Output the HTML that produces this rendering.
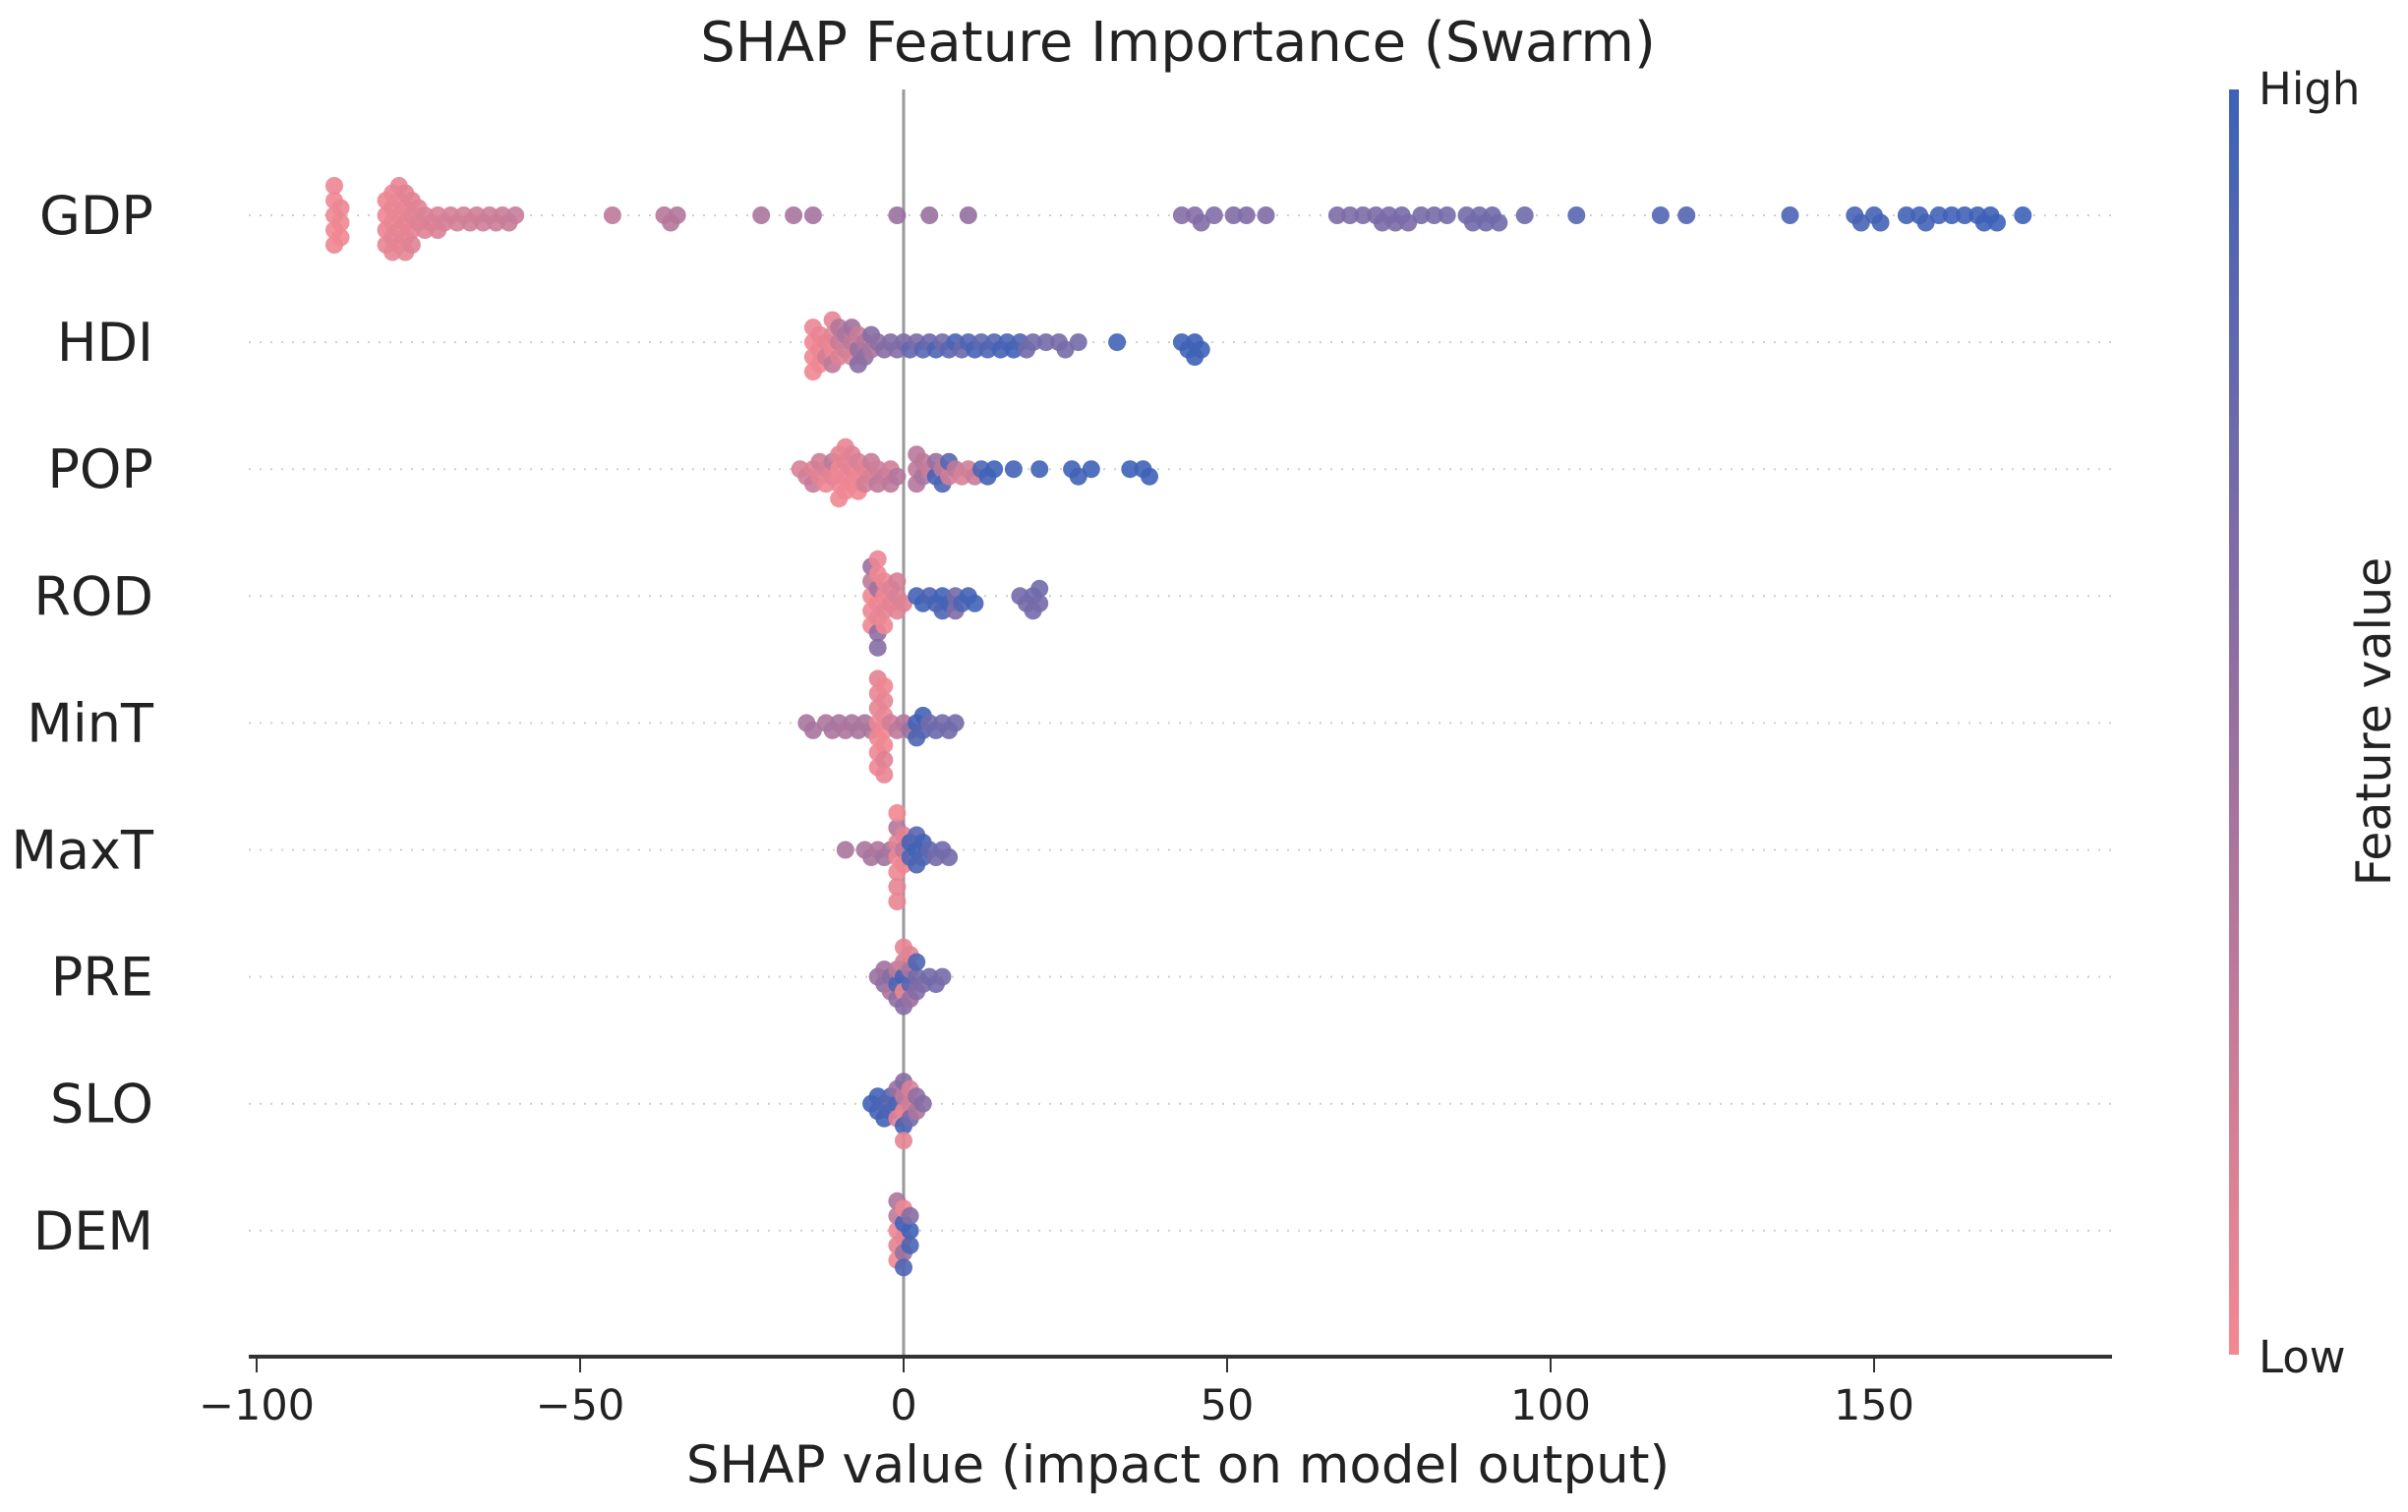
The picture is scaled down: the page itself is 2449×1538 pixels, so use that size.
<!DOCTYPE html>
<html><head><meta charset="utf-8"><style>
html,body{margin:0;padding:0;background:#fff}
svg{display:block}
text{font-family:"DejaVu Sans","Liberation Sans",sans-serif;fill:#222}
</style></head><body>
<svg id="chart" width="2449" height="1538" viewBox="0 0 2449 1538">
<defs><linearGradient id="cbar" x1="0" y1="1" x2="0" y2="0">
<stop offset="0" stop-color="#f48891"/><stop offset="0.5" stop-color="#9870a0"/><stop offset="1" stop-color="#3c62b8"/></linearGradient></defs>
<text x="1198" y="62" font-size="56" text-anchor="middle">SHAP Feature Importance (Swarm)</text>
<g id="grid"></g>
<line x1="919" y1="91" x2="919" y2="1380" stroke="#999" stroke-width="3"/>
<g id="dots"></g>
<line x1="253" y1="1380" x2="2148" y2="1380" stroke="#333" stroke-width="4"/>
<g id="xticks"></g>
<text x="1198" y="1508" font-size="53" text-anchor="middle">SHAP value (impact on model output)</text>
<rect x="2267" y="91" width="10" height="1287" fill="url(#cbar)"/>
<text x="2297" y="106" font-size="45">High</text>
<text x="2297" y="1396" font-size="45">Low</text>
<text x="0" y="0" font-size="49" text-anchor="middle" transform="translate(2431,734) rotate(-90)">Feature value</text>
</svg>
<script>
const features = ["GDP","HDI","POP","ROD","MinT","MaxT","PRE","SLO","DEM"];
const xTicks = [-100,-50,0,50,100,150];
const gdpPoints = [[-88,0.02],[-88,0.03],[-88,0.02],[-88,0.04],[-87,0.03],[-87,0.05],[-87,0.02],[-88,0.04],
[-80,0.05],[-80,0.06],[-80,0.04],[-80,0.07],[-79,0.05],[-79,0.06],[-79,0.08],[-79,0.05],[-79,0.07],[-78,0.06],[-78,0.08],[-78,0.05],[-78,0.09],[-78,0.07],[-77,0.08],[-77,0.06],[-77,0.09],[-77,0.1],[-77,0.07],[-76,0.1],[-76,0.08],[-76,0.1],[-76,0.12],[-75,0.12],[-75,0.1],[-74,0.13],[-74,0.12],[-73,0.14],[-72,0.15],[-72,0.13],[-71,0.16],[-70,0.17],[-69,0.18],[-68,0.18],[-67,0.2],[-66,0.2],[-65,0.21],[-64,0.22],[-63,0.22],[-62,0.23],[-61,0.24],[-60,0.25],
[-45,0.3],[-37,0.33],[-36,0.34],[-35,0.35],[-22,0.4],[-17,0.42],[-14,0.43],[-1,0.5],[4,0.5],[10,0.52],
[43,0.6],[45,0.6],[46,0.62],[48,0.62],[51,0.63],[53,0.63],[56,0.64],[67,0.64],[69,0.65],[71,0.65],[73,0.66],[74,0.66],[75,0.67],[76,0.67],[77,0.68],[78,0.66],[80,0.68],[82,0.68],[84,0.69],[87,0.7],[88,0.7],[89,0.7],[90,0.72],[91,0.71],[92,0.72],[96,0.73],
[104,0.85],[117,0.88],[121,0.88],[137,0.92],[147,0.93],[148,0.94],[150,0.95],[151,0.95],[155,0.96],[157,0.96],[158,0.97],[160,0.97],[162,0.98],[164,0.98],[166,0.99],[167,0.99],[168,1],[169,1],[173,1]];
const hdiPoints = [[-14,0.02],[-14,0.03],[-14,0.05],[-14,0.02],[-13,0.04],[-13,0.06],[-13,0.03],[-12,0.08],[-12,0.2],[-11,0.05],[-11,0.1],[-11,0.3],[-11,0.08],[-10,0.25],[-10,0.12],[-10,0.35],[-9,0.2],[-9,0.4],[-8,0.3],[-8,0.15],[-8,0.45],[-7,0.5],[-7,0.25],[-7,0.6],[-6,0.35],[-6,0.55],[-5,0.4],[-5,0.6],[-4,0.55],[-3,0.6],[-2,0.62],[-1,0.62],[0,0.64],[1,0.8],[2,0.66],[3,0.85],[4,0.75],[5,0.9],[6,0.7],[7,0.85],[8,0.92],[9,0.75],[10,0.88],[11,0.95],[12,0.8],[13,0.9],[14,0.85],[15,0.95],[16,0.92],[17,0.98],[18,0.9],[19,0.72],[20,0.7],[22,0.7],[24,0.68],[25,0.68],[27,0.7],[33,0.97],[43,0.98],[44,0.98],[45,0.99],[45,1],[46,0.98]];
const popPoints = [[-16,0.15],[-15,0.2],[-14,0.12],[-14,0.25],[-13,0.1],[-13,0.2],[-12,0.15],[-12,0.05],[-11,0.1],[-11,0.3],[-10,0.02],[-10,0.05],[-10,0.08],[-10,0.03],[-9,0.05],[-9,0.1],[-9,0.02],[-9,0.06],[-8,0.08],[-8,0.04],[-8,0.12],[-7,0.05],[-7,0.15],[-7,0.03],[-6,0.1],[-6,0.2],[-5,0.15],[-5,0.25],[-4,0.2],[-4,0.3],[-3,0.25],[-2,0.2],[-2,0.3],[-1,0.35],[2,0.3],[2,0.35],[2,0.32],[3,0.4],[3,0.3],[4,0.25],[5,0.95],[5,0.5],[6,0.3],[6,0.9],[7,0.2],[7,0.85],[8,0.3],[9,0.15],[10,0.2],[11,0.25],[12,0.9],[13,0.95],[14,0.98],[17,0.97],[21,0.98],[26,0.98],[27,0.97],[29,0.99],[35,1],[37,0.98],[38,1]];
const rodPoints = [[-5,0.02],[-5,0.05],[-5,0.3],[-5,0.03],[-5,0.5],[-4,0.04],[-4,0.45],[-4,0.06],[-4,0.02],[-4,0.55],[-4,0.05],[-4,0.6],[-3,0.03],[-3,0.08],[-3,0.05],[-3,0.04],[-2,0.1],[-2,0.12],[-1,0.15],[-1,0.1],[-1,0.18],[0,0.12],[2,0.95],[3,0.98],[4,0.92],[5,0.95],[6,0.97],[6,0.9],[7,0.95],[8,0.7],[8,0.65],[9,0.9],[10,0.95],[11,0.97],[18,0.7],[19,0.68],[20,0.72],[20,0.7],[21,0.68],[21,0.72]];
const mintPoints = [[-15,0.4],[-14,0.42],[-12,0.38],[-11,0.4],[-10,0.42],[-9,0.38],[-8,0.4],[-7,0.42],[-6,0.4],[-5,0.38],[-4,0.05],[-4,0.02],[-4,0.08],[-4,0.03],[-4,0.06],[-4,0.04],[-4,0.1],[-3,0.03],[-3,0.05],[-3,0.02],[-3,0.07],[-3,0.12],[-3,0.04],[-3,0.06],[-2,0.2],[-1,0.3],[0,0.35],[1,0.5],[2,0.95],[2,0.9],[3,0.85],[3,0.98],[4,0.7],[5,0.75],[6,0.7],[7,0.72],[8,0.7]];
const maxtPoints = [[-9,0.4],[-6,0.4],[-5,0.42],[-4,0.38],[-3,0.45],[-2,0.4],[-1,0.05],[-1,0.1],[-1,0.03],[-1,0.35],[-1,0.08],[-1,0.02],[-1,0.06],[0,0.3],[0,0.04],[0,0.1],[1,0.9],[1,0.95],[2,0.98],[2,0.92],[2,0.85],[3,0.9],[3,0.95],[4,0.8],[5,0.7],[6,0.72],[7,0.7]];
const prePoints = [[-4,0.5],[-3,0.55],[-3,0.45],[-2,0.6],[-2,0.4],[-1,0.9],[-1,0.3],[-1,0.55],[0,0.95],[0,0.05],[0,0.2],[0,0.6],[0,0.08],[1,0.85],[1,0.4],[1,0.5],[1,0.1],[2,0.7],[2,0.6],[2,0.9],[3,0.65],[4,0.7],[5,0.7],[6,0.68]];
const sloPoints = [[-5,0.98],[-4,0.95],[-4,0.97],[-3,0.9],[-3,0.95],[-2,0.92],[-2,0.85],[-1,0.9],[-1,0.1],[-1,0.5],[0,0.05],[0,0.3],[0,0.95],[0,0.6],[0,0.08],[1,0.2],[1,0.7],[1,0.15],[2,0.4],[2,0.55],[3,0.6]];
const demPoints = [[-1,0.05],[-1,0.1],[-1,0.3],[-1,0.02],[-1,0.4],[0,0.08],[0,0.95],[0,0.5],[0,0.04],[0,0.9],[1,0.98],[1,0.92],[1,0.6]];
const allPoints = [gdpPoints,hdiPoints,popPoints,rodPoints,mintPoints,maxtPoints,prePoints,sloPoints,demPoints];

const NS="http://www.w3.org/2000/svg";
const X0=919, PXU=6.58, ROW0=219, ROWH=129.1;
function xScale(v){return X0+v*PXU;}
function yRow(i){return ROW0+i*ROWH;}
function lerp(a,b,t){return Math.round(a+(b-a)*t);}
function color(t){
  const c0=[244,136,145],c1=[152,112,160],c2=[60,98,184];
  let a,b,u; if(t<0.5){a=c0;b=c1;u=t/0.5;}else{a=c1;b=c2;u=(t-0.5)/0.5;}
  return "rgb("+lerp(a[0],b[0],u)+","+lerp(a[1],b[1],u)+","+lerp(a[2],b[2],u)+")";
}
const svg=document.getElementById('chart');
const grid=document.getElementById('grid');
const dots=document.getElementById('dots');
const xt=document.getElementById('xticks');

features.forEach(function(f,i){
  const y=yRow(i);
  const gl=document.createElementNS(NS,'line');
  gl.setAttribute('x1',253);gl.setAttribute('x2',2148);gl.setAttribute('y1',y);gl.setAttribute('y2',y);
  gl.setAttribute('stroke','#cfcfcf');gl.setAttribute('stroke-width','2');gl.setAttribute('stroke-dasharray','2,9');
  
  
  grid.appendChild(gl);
  const t=document.createElementNS(NS,'text');
  t.setAttribute('x',156);t.setAttribute('y',y+19);t.setAttribute('font-size','54');t.setAttribute('text-anchor','end');
  t.textContent=f;
  
  
  svg.appendChild(t);

  const pts=allPoints[i].map(function(p){return {x:xScale(p[0]),c:p[1]};}).sort(function(a,b){return a.x-b.x;});
  const placed=[];
  const S=7.5, D=9;
  pts.forEach(function(p){
    let off=0;
    for(let k=0;k<40;k++){
      const cand=(k===0)?0:((k%2===1)?1:-1)*Math.ceil(k/2)*S;
      let ok=true;
      for(let j=placed.length-1;j>=0;j--){
        const q=placed[j]; if(p.x-q.x>D) break;
        const dx=p.x-q.x, dy=cand-q.o;
        if(dx*dx+dy*dy<D*D){ok=false;break;}
      }
      if(ok){off=cand;break;}
    }
    placed.push({x:p.x,o:off});
    const c=document.createElementNS(NS,'circle');
    c.setAttribute('cx',p.x.toFixed(1));c.setAttribute('cy',(y+off).toFixed(1));c.setAttribute('r','9');
    c.setAttribute('fill',color(p.c));c.setAttribute('fill-opacity','0.9');
    
    
    dots.appendChild(c);
  });
});

xTicks.forEach(function(v){
  const x=xScale(v);
  const l=document.createElementNS(NS,'line');
  l.setAttribute('x1',x);l.setAttribute('x2',x);l.setAttribute('y1',1380);l.setAttribute('y2',1396);
  l.setAttribute('stroke','#333');l.setAttribute('stroke-width','2');
  
  
  xt.appendChild(l);
  const t=document.createElementNS(NS,'text');
  t.setAttribute('x',x);t.setAttribute('y',1444);t.setAttribute('font-size','43');t.setAttribute('text-anchor','middle');
  t.textContent=(v<0?'\u2212'+Math.abs(v):String(v));
  
  
  xt.appendChild(t);
});
</script>
</body></html>
